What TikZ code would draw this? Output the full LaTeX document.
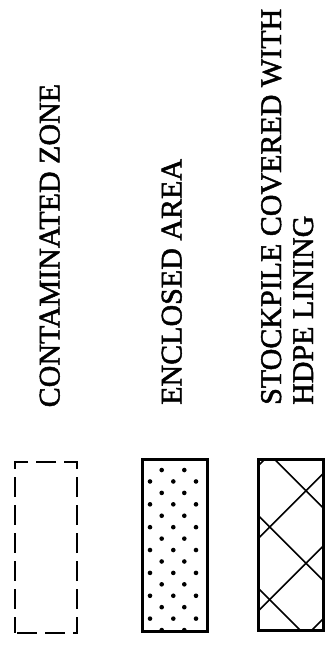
\documentclass[tikz,border=0pt]{standalone}
\usepackage{fontspec}
\setmainfont{Liberation Serif}
\newfontfamily\heavyfont[FakeBold=1.6]{Liberation Serif}

\begin{document}
\begin{tikzpicture}[
  x=1pt, y=-1pt,
  legendbox/.style={
    minimum width=65pt, minimum height=171pt, inner sep=0pt,
    outer sep=0pt, anchor=north west
  },
  legendtext/.style={
    rotate=90, anchor=base west, inner sep=0pt,
    font=\heavyfont\fontsize{30}{31.5}\selectfont
  },
  hatch/.style={line width=1.6pt}
]

  \useasboundingbox (0,0) rectangle (326,651);

  % --- BOXES ---
  % Contaminated zone: dashed outline
  \node[legendbox, minimum width=62pt, draw, line width=1.5pt,
    dash pattern=on 20pt off 8pt, dash phase=-2pt] (zonebox) at (15,462) {};

  % Enclosed area: dotted fill
  \node[legendbox, minimum height=172pt] (areabox) at (142,459) {};
  \begin{scope}
    \clip (areabox.north west) rectangle (areabox.south east);
    \foreach \k in {0,...,15} {
      \pgfmathtruncatemacro{\odd}{mod(\k,2)}
      \ifnum\odd=0
        \foreach \cx in {150,173.3,196}
          \fill (\cx,458.6+\k*11.43) circle (2.3pt);
      \else
        \foreach \cx in {161.7,184.3}
          \fill (\cx,458.6+\k*11.43) circle (2.3pt);
      \fi
    }
  \end{scope}
  \draw[line width=3pt] (areabox.north west) rectangle (areabox.south east);

  % Stockpile: cross hatching
  \node[legendbox] (pilebox) at (258,459) {};
  \begin{scope}
    \clip (pilebox.north west) rectangle (pilebox.south east);
    \foreach \c in {184.7,257.3,330}
      \draw[hatch] (200,200+\c) -- (340,340+\c);
    \foreach \s in {724,796.7,869.3,942}
      \draw[hatch] (200,\s-200) -- (340,\s-340);
  \end{scope}
  \draw[line width=3pt] (pilebox.north west) rectangle (pilebox.south east);

  % --- LABELS ---
  \node[legendtext] (zonetext) at (59.5,407.5) {CONTAMINATED ZONE};
  \node[legendtext] (areatext) at (181.5,405) {ENCLOSED AREA};
  \node[legendtext] (piletext) at (281,405) {STOCKPILE COVERED WITH};
  \node[legendtext] (hdpetext) at (313,405) {HDPE LINING};

\end{tikzpicture}
\end{document}
